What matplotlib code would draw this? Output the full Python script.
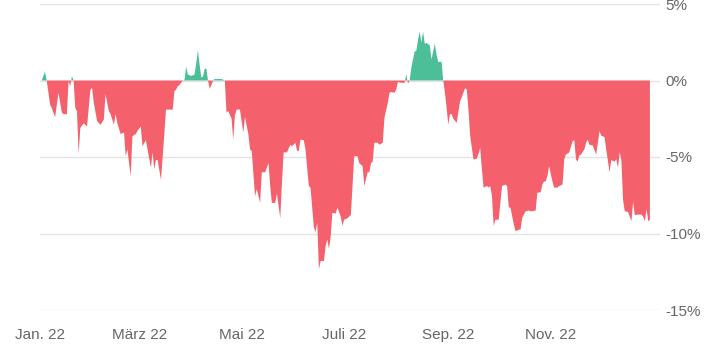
import pandas as pd
import numpy as np
import matplotlib
matplotlib.use("Agg")
import matplotlib.pyplot as plt
from matplotlib.ticker import FuncFormatter

# days since 2022-01-01 and relative performance in %
days = [1, 3, 4, 6, 7, 9, 11, 13, 14, 16, 17, 18, 19, 20, 21, 22, 23, 24, 26, 28,
        30, 31, 32, 34, 36, 38, 39, 41, 42, 44, 45, 46, 48, 50, 51, 52, 54, 55, 57, 58,
        60, 61, 63, 64, 66, 67, 68, 69, 70, 72, 73, 74, 75, 77, 79, 80, 81, 82, 83, 85,
        86, 87, 88, 90, 92, 93, 94, 95, 96, 97, 98, 99, 100, 101, 102, 103, 104, 106, 108, 110,
        111, 112, 114, 115, 116, 117, 119, 121, 122, 124, 125, 126, 128, 129, 131, 132, 134, 136, 137, 138,
        140, 141, 143, 144, 145, 147, 149, 150, 152, 153, 154, 155, 157, 158, 160, 161, 163, 164, 165, 166,
        167, 169, 170, 171, 172, 173, 174, 176, 177, 179, 180, 181, 183, 185, 186, 187, 189, 190, 192, 193,
        195, 196, 197, 198, 199, 201, 202, 204, 205, 207, 208, 209, 211, 212, 213, 215, 217, 218, 219, 220,
        221, 223, 224, 225, 226, 227, 228, 229, 230, 232, 233, 234, 235, 236, 237, 239, 240, 241, 242, 243,
        244, 245, 246, 248, 250, 251, 253, 254, 255, 256, 258, 260, 261, 262, 263, 264, 266, 267, 268, 269,
        270, 271, 273, 274, 275, 277, 278, 279, 280, 281, 282, 283, 285, 286, 287, 289, 291, 292, 293, 295,
        296, 298, 299, 300, 301, 302, 303, 305, 306, 308, 309, 311, 312, 313, 315, 317, 318, 319, 320, 321,
        322, 324, 325, 326, 327, 329, 331, 332, 333, 334, 336, 337, 339, 340, 342, 343, 344, 345, 346, 347,
        348, 350, 352, 353, 354, 356, 358, 359, 360, 361, 362, 363]
perf = [0.0, 0.57, 0.0, -1.57, -1.8, -2.4, -0.8, -2.1, -2.2, -2.2, -0.05, -0.37, 0.28, 0.0, -1.8, -2.0, -4.8, -3.1, -2.8, -3.0,
        -0.6, -0.48, -1.45, -2.66, -2.9, -2.55, -0.9, -2.0, -2.2, -2.9, -2.2, -2.77, -3.5, -3.4, -4.95, -4.5, -6.25, -3.64, -3.5, -3.3,
        -3.0, -4.3, -3.9, -4.5, -5.7, -4.7, -5.8, -5.2, -5.2, -6.5, -5.0, -3.5, -1.9, -1.9, -1.9, -0.7, -0.6, -0.37, -0.3, 0.0,
        0.05, 0.9, 0.39, 0.3, 0.39, 1.15, 1.98, 1.0, 0.2, 0.25, 0.77, 0.77, 0.0, -0.54, -0.3, 0.0, 0.1, 0.1, 0.1, 0.0,
        -2.1, -2.0, -2.5, -3.85, -2.3, -1.9, -1.9, -3.4, -2.4, -3.5, -4.5, -4.6, -7.56, -7.1, -8.0, -6.0, -6.0, -5.4, -6.9, -8.0,
        -8.0, -7.4, -9.0, -6.7, -4.7, -4.7, -4.2, -4.3, -4.07, -4.6, -4.6, -3.86, -3.9, -4.5, -6.9, -7.0, -9.6, -9.9, -9.3, -12.35,
        -11.8, -11.8, -10.8, -10.4, -11.0, -10.2, -8.65, -8.7, -8.3, -8.9, -9.5, -9.1, -9.0, -8.8, -6.9, -4.95, -4.95, -5.4, -5.6, -6.9,
        -6.0, -6.0, -5.4, -5.3, -4.07, -4.07, -4.2, -4.07, -2.44, -1.46, -0.8, -0.75, -0.8, -0.6, -0.1, -0.15, -0.15, 0.4, -0.2, 0.0,
        0.83, 1.9, 1.95, 2.68, 3.18, 2.5, 3.2, 2.4, 2.46, 2.3, 1.37, 1.9, 2.4, 1.7, 1.22, 1.22, 0.0, -0.8, -1.8, -2.88,
        -2.2, -2.2, -2.5, -2.77, -1.35, -1.1, -0.5, -0.6, -1.9, -3.6, -5.16, -5.1, -4.8, -4.4, -5.8, -7.0, -6.9, -7.0, -6.9, -7.56,
        -9.5, -9.1, -9.1, -8.0, -6.9, -6.8, -6.9, -8.3, -8.3, -8.87, -9.4, -9.85, -9.75, -9.75, -8.97, -8.55, -8.5, -8.55, -8.54, -8.5,
        -7.34, -7.3, -6.8, -6.6, -6.6, -6.25, -5.6, -6.6, -7.0, -7.0, -6.9, -6.8, -5.16, -4.84, -4.7, -3.97, -3.9, -5.16, -5.3, -4.9,
        -4.84, -4.5, -4.07, -3.86, -4.2, -4.25, -4.84, -4.1, -3.3, -3.6, -3.7, -4.5, -6.0, -5.2, -5.3, -5.16, -5.7, -4.7, -5.2, -7.8,
        -8.54, -8.6, -9.2, -7.9, -8.8, -8.76, -8.76, -8.9, -9.2, -8.4, -9.2, -9.1]

tick_dates = ["2022-01-01", "2022-03-01", "2022-05-01", "2022-07-01", "2022-09-01", "2022-11-01"]
tick_labels = ["Jan. 22", "März 22", "Mai 22", "Juli 22", "Sep. 22", "Nov. 22"]
y_ticks = [5, 0, -5, -10, -15]

dates = pd.Timestamp("2022-01-01") + pd.to_timedelta(days, unit="D")
vals = np.array(perf)

plt.rcParams['font.family'] = ['Liberation Sans', 'DejaVu Sans']

fig = plt.figure(figsize=(7.23, 3.54), dpi=100)
ax = fig.add_axes([40/723, 1 - 310/354, 620/723, 306/354])

green = "#4dbf98"
red = "#f5606d"
ax.fill_between(dates, vals, 0, where=vals >= 0, interpolate=True, color=green, linewidth=0)
ax.fill_between(dates, vals, 0, where=vals <= 0, interpolate=True, color=red, linewidth=0)

ax.set_ylim(-15, 5)
ax.set_xlim(pd.Timestamp("2022-01-01"), pd.Timestamp("2023-01-05"))

ax.set_yticks(y_ticks)
ax.yaxis.set_major_formatter(FuncFormatter(lambda v, p: "%d%%" % v))
ax.yaxis.tick_right()
ax.grid(axis="y", color="#e3e3e3", linewidth=1)
ax.set_axisbelow(True)

ax.set_xticks(pd.to_datetime(tick_dates))
ax.set_xticklabels(tick_labels)

ax.tick_params(axis="y", length=0, pad=4, labelsize=11, labelcolor="#666666")
ax.tick_params(axis="x", length=0, pad=13, labelsize=11, labelcolor="#666666")
for s in ax.spines.values():
    s.set_visible(False)

fig.savefig("out.png", dpi=100)
